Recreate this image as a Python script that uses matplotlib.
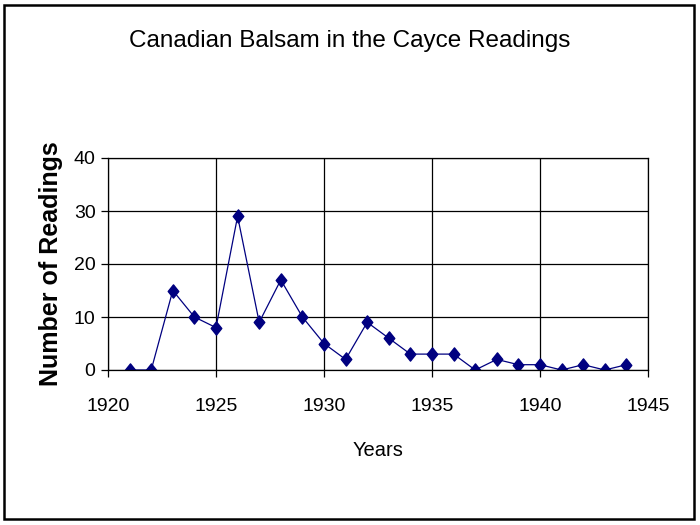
import matplotlib
matplotlib.use("Agg")
import matplotlib.pyplot as plt
from matplotlib.patches import Rectangle
from matplotlib.path import Path

years = [1921, 1922, 1923, 1924, 1925, 1926, 1927, 1928, 1929, 1930, 1931, 1932,
         1933, 1934, 1935, 1936, 1937, 1938, 1939, 1940, 1941, 1942, 1943, 1944]
readings = [0, 0, 15, 10, 8, 29, 9, 17, 10, 5, 2, 9,
            6, 3, 3, 3, 0, 2, 1, 1, 0, 1, 0, 1]
x_ticks = [1920, 1925, 1930, 1935, 1940, 1945]
y_ticks = [0, 10, 20, 30, 40]

plt.rcParams['font.family'] = ['Liberation Sans', 'DejaVu Sans']

W, H = 700, 525
fig = plt.figure(figsize=(7, 5.25), dpi=100)
ax = fig.add_axes([108 / W, 1 - 370 / H, (648 - 108) / W, (370 - 158) / H])

diamond = Path([(0, 1), (0.8, 0), (0, -1), (-0.8, 0), (0, 1)],
               [Path.MOVETO, Path.LINETO, Path.LINETO, Path.LINETO, Path.CLOSEPOLY])

ax.plot(years, readings, color='#000080', linewidth=0.9, marker=diamond,
        markersize=9.5, markerfacecolor='#000080', markeredgecolor='#000080')

ax.set_xlim(1920, 1945)
ax.set_ylim(0, 40)
ax.set_xticks(x_ticks)
ax.set_yticks(y_ticks)
ax.grid(True, color='black', linewidth=0.9)
ax.set_axisbelow(True)
for s in ax.spines.values():
    s.set_color('black')
    s.set_linewidth(0.9)
ax.tick_params(axis='x', length=5, width=0.9, pad=15, labelsize=14)
ax.tick_params(axis='y', length=5, width=0.9, pad=4, labelsize=14)

ax.set_xlabel('Years', fontsize=14.5, labelpad=19)
ax.set_ylabel('Number of Readings', fontsize=18, fontweight='bold', labelpad=8)

fig.text(0.5, 1 - 41 / H, 'Canadian Balsam in the Cayce Readings',
         ha='center', va='center', fontsize=17.5)

fig.patches.append(Rectangle((4 / W, 1 - 519 / H), (694 - 4) / W, (519 - 5) / H,
                             transform=fig.transFigure, fill=False,
                             edgecolor='black', linewidth=1.8))

fig.savefig('out.png', dpi=100)
